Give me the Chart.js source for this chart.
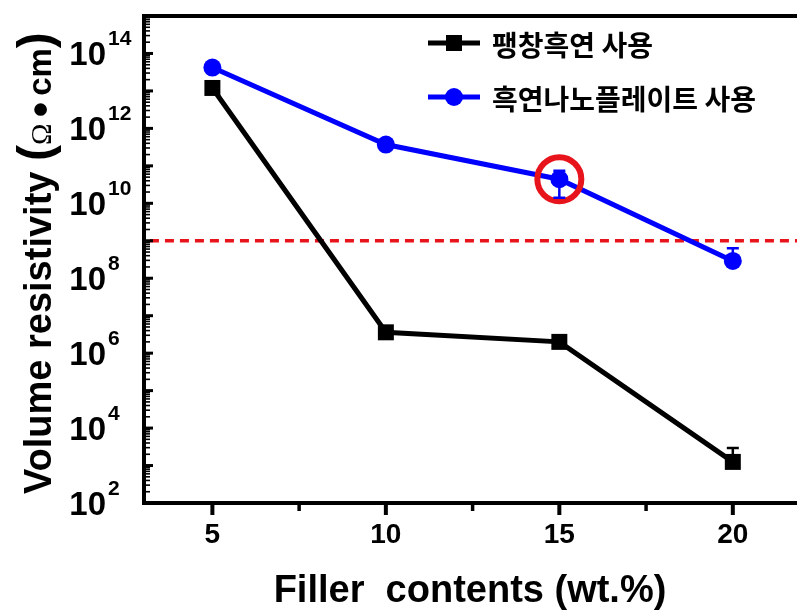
<!DOCTYPE html>
<html>
<head>
<meta charset="utf-8">
<script src="https://cdn.jsdelivr.net/npm/chart.js@4/dist/chart.umd.min.js"></script>
<style>
  html, body { margin: 0; padding: 0; background: #fff; overflow: hidden; }
  #wrap { width: 797px; height: 616px; }
</style>
</head>
<body>
<div id="wrap"><canvas id="c" width="797" height="616"></canvas></div>
<script>
// Filler loading (wt.%) and measured volume resistivity (Ω·cm)
const fillerContents = [5, 10, 15, 20];
const expandedGraphite = [1.2e13, 3.6e6, 2.0e6, 1.25e3];
const expandedGraphiteErrPlus = [0, 0, 0, 1.7e3];
const expandedGraphiteErrMinus = [0, 0, 0, 0];
const nanoplatelet = [4.2e13, 3.7e11, 4.4e10, 2.9e8];
const nanoplateletErrPlus = [0, 0, 3.0e10, 3.4e8];
const nanoplateletErrMinus = [0, 0, 3.0e10, 0];

// Reference level (dashed) and the highlighted nanoplatelet sample
const thresholdValue = 1e9;
const thresholdFrom = 3.2;
const highlightIndex = 2;

// Axis ticks
const xRange = [3, 21.85];
const yRange = [1e2, 1e15];
const xTicks = [5, 10, 15, 20];
const xMinorTicks = [7.5, 12.5, 17.5];
const yLabelExponents = [2, 4, 6, 8, 10, 12, 14];
const yDecadeExponents = [2, 3, 4, 5, 6, 7, 8, 9, 10, 11, 12, 13, 14, 15];

const seriesNames = ['팽창흑연 사용', '흑연나노플레이트 사용'];
const xTitle = 'Filler  contents (wt.%)';

const BLACK = '#000000';
const BLUE = '#0000ff';
const RED = '#e8141c';
const SANS = '"Liberation Sans", Arial, sans-serif';
const KR = '"Noto Sans CJK KR", sans-serif';

const pts = (xs, ys) => xs.map((x, i) => ({ x, y: ys[i] }));

// Axes frame, ticks, labels, titles, legend and error bars
const decorations = {
  id: 'decorations',
  afterDatasetsDraw(chart) {
    const { ctx, scales: { x, y } } = chart;
    const drawErr = (vals, plus, minus, color) => {
      ctx.save();
      ctx.strokeStyle = color;
      ctx.lineWidth = 2.5;
      vals.forEach((v, i) => {
        const px = x.getPixelForValue(fillerContents[i]);
        const py = y.getPixelForValue(v);
        [[plus[i], 1], [minus[i], -1]].forEach(([e, s]) => {
          if (!e) return;
          const ey = y.getPixelForValue(v + s * e);
          ctx.beginPath();
          ctx.moveTo(px, py); ctx.lineTo(px, ey);
          ctx.moveTo(px - 6, ey); ctx.lineTo(px + 6, ey);
          ctx.stroke();
        });
      });
      ctx.restore();
    };
    drawErr(expandedGraphite, expandedGraphiteErrPlus, expandedGraphiteErrMinus, BLACK);
    drawErr(nanoplatelet, nanoplateletErrPlus, nanoplateletErrMinus, BLUE);
  },
  afterDraw(chart) {
    const { ctx, chartArea: a, scales: { x, y } } = chart;
    const W = chart.width;
    ctx.save();
    ctx.strokeStyle = BLACK;
    ctx.fillStyle = BLACK;

    // frame lines
    ctx.lineWidth = 4;
    ctx.beginPath();
    ctx.moveTo(a.left + 1, a.top - 2); ctx.lineTo(a.left + 1, a.bottom + 2);
    ctx.moveTo(a.left - 1, a.top); ctx.lineTo(W, a.top);
    ctx.moveTo(a.left - 1, a.bottom); ctx.lineTo(W, a.bottom);
    ctx.stroke();

    // y ticks: decades long, 2..9 short, pointing inward
    yDecadeExponents.forEach(e => {
      const py = y.getPixelForValue(Math.pow(10, e));
      ctx.lineWidth = 3;
      ctx.beginPath(); ctx.moveTo(a.left, py); ctx.lineTo(a.left + 10, py); ctx.stroke();
      if (e < 15) {
        ctx.lineWidth = 1.6;
        for (let k = 2; k <= 9; k++) {
          const my = y.getPixelForValue(k * Math.pow(10, e));
          ctx.beginPath(); ctx.moveTo(a.left, my); ctx.lineTo(a.left + 7, my); ctx.stroke();
        }
      }
    });

    // y labels 10^n
    yLabelExponents.forEach(e => {
      const py = y.getPixelForValue(Math.pow(10, e));
      ctx.font = 'bold 33px ' + SANS;
      ctx.textAlign = 'right';
      ctx.textBaseline = 'alphabetic';
      ctx.fillText('10', 106, py + 12);
      ctx.font = 'bold 21px ' + SANS;
      ctx.textAlign = 'left';
      ctx.fillText(String(e), 108, py - 8);
    });

    // x ticks, outward
    ctx.lineWidth = 4;
    xTicks.forEach(v => {
      const px = x.getPixelForValue(v);
      ctx.beginPath(); ctx.moveTo(px, a.bottom); ctx.lineTo(px, a.bottom + 12); ctx.stroke();
    });
    ctx.lineWidth = 3.5;
    xMinorTicks.forEach(v => {
      const px = x.getPixelForValue(v);
      ctx.beginPath(); ctx.moveTo(px, a.bottom); ctx.lineTo(px, a.bottom + 8); ctx.stroke();
    });
    ctx.font = 'bold 28px ' + SANS;
    ctx.textAlign = 'center';
    ctx.textBaseline = 'alphabetic';
    xTicks.forEach(v => ctx.fillText(String(v), x.getPixelForValue(v), 543));

    // x title
    ctx.font = 'bold 38px ' + SANS;
    ctx.fillText(xTitle, 470, 602);

    // y title with mixed runs, rotated
    const runs = [
      { t: 'Volume resistivity ', f: 'bold 38px ' + SANS },
      { t: '(', f: 'bold 48px ' + SANS },
      { t: 'Ω', f: '29px "Liberation Serif", serif' },
      { t: ' ', f: 'bold 22px ' + SANS },
      { t: '•', f: 'bold 44px ' + SANS },
      { t: ' ', f: 'bold 22px ' + SANS },
      { t: 'cm', f: 'bold 33px ' + SANS },
      { t: ')', f: 'bold 48px ' + SANS }
    ];
    ctx.save();
    ctx.translate(51, 494);
    ctx.rotate(-Math.PI / 2);
    ctx.textAlign = 'left';
    ctx.textBaseline = 'alphabetic';
    let cx = 0;
    runs.forEach(r => {
      ctx.font = r.f;
      ctx.fillText(r.t, cx, r.t === '•' ? 4 : 0);
      cx += ctx.measureText(r.t).width;
    });
    ctx.restore();

    // legend
    const legend = [
      { name: seriesNames[0], color: BLACK, y: 43, shape: 'rect' },
      { name: seriesNames[1], color: BLUE, y: 97, shape: 'circle' }
    ];
    legend.forEach(l => {
      ctx.strokeStyle = l.color;
      ctx.fillStyle = l.color;
      ctx.lineWidth = 5;
      ctx.beginPath(); ctx.moveTo(428, l.y); ctx.lineTo(480, l.y); ctx.stroke();
      ctx.beginPath();
      if (l.shape === 'rect') ctx.rect(446, l.y - 8, 16, 16);
      else ctx.arc(454, l.y, 9, 0, Math.PI * 2);
      ctx.fill();
      ctx.fillStyle = BLACK;
      ctx.font = 'bold 28px ' + KR;
      ctx.textAlign = 'left';
      ctx.textBaseline = 'middle';
      ctx.fillText(l.name, 492, l.y + 2);
    });
    ctx.restore();
  }
};

new Chart(document.getElementById('c'), {
  type: 'line',
  data: {
    datasets: [
      {
        label: 'threshold',
        data: [{ x: thresholdFrom, y: thresholdValue }, { x: xRange[1], y: thresholdValue }],
        borderColor: RED,
        borderWidth: 3.5,
        borderDash: [9, 6],
        pointRadius: 0,
        order: 5
      },
      {
        label: seriesNames[0],
        data: pts(fillerContents, expandedGraphite),
        borderColor: BLACK,
        backgroundColor: BLACK,
        borderWidth: 5,
        pointStyle: 'rect',
        pointRadius: 11.3,
        pointBorderWidth: 0,
        order: 3
      },
      {
        label: seriesNames[1],
        data: pts(fillerContents, nanoplatelet),
        borderColor: BLUE,
        backgroundColor: BLUE,
        borderWidth: 5,
        pointStyle: 'circle',
        pointRadius: 9,
        pointBorderWidth: 0,
        order: 2
      },
      {
        label: 'highlight',
        data: [{ x: fillerContents[highlightIndex], y: nanoplatelet[highlightIndex] }],
        showLine: false,
        pointStyle: 'circle',
        pointRadius: 22,
        pointBorderWidth: 6,
        pointBorderColor: RED,
        pointBackgroundColor: 'rgba(0,0,0,0)',
        order: 1
      }
    ]
  },
  options: {
    responsive: false,
    animation: false,
    events: [],
    layout: { autoPadding: false, padding: { left: 143, right: 0, top: 16, bottom: 113 } },
    scales: {
      x: { type: 'linear', min: xRange[0], max: xRange[1], display: false },
      y: { type: 'logarithmic', min: yRange[0], max: yRange[1], display: false }
    },
    plugins: {
      legend: { display: false },
      tooltip: { enabled: false }
    }
  },
  plugins: [decorations]
});
</script>
</body>
</html>
